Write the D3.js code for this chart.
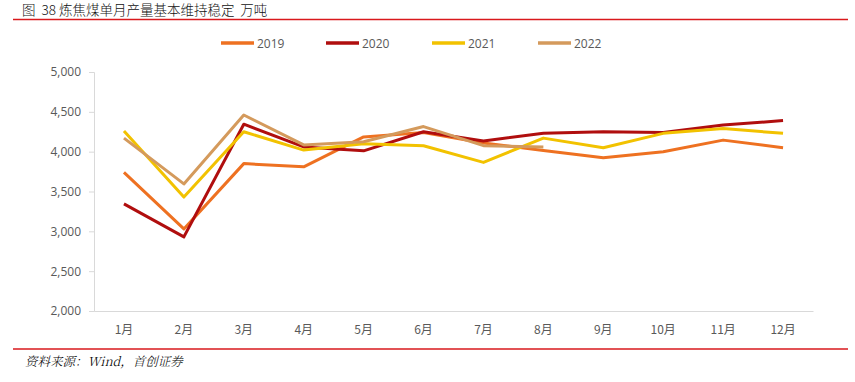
<!DOCTYPE html>
<html><head><meta charset="utf-8">
<script src="https://cdn.jsdelivr.net/npm/d3@7"></script>
<style>body{margin:0;background:#fff}svg{display:block}</style>
</head><body>
<svg id="c" width="855" height="382"></svg>
<script>
const months = ["1月","2月","3月","4月","5月","6月","7月","8月","9月","10月","11月","12月"];
const yTicks = [2000,2500,3000,3500,4000,4500,5000];
const s2019 = [3740,3030,3850,3810,4185,4240,4110,4015,3925,4000,4145,4050];
const s2020 = [3345,2930,4345,4060,4010,4250,4135,4230,4250,4240,4335,4390];
const s2021 = [4260,3430,4250,4020,4100,4075,3865,4170,4050,4230,4290,4230];
const s2022 = [4170,3595,4460,4085,4125,4315,4075,4060];
const seriesNames = ["2019","2020","2021","2022"];
const colors = ["#EE7121","#B00E0E","#F2C200","#D49A5C"];
const allSeries = [s2019,s2020,s2021,s2022];

const svg = d3.select("#c");
const font = "'Noto Sans CJK SC','Microsoft YaHei',sans-serif";

// title
svg.append("text").attr("x",22).attr("y",15).attr("font-family",font).attr("font-size",13.5)
  .attr("font-weight",300).attr("fill","#111").style("white-space","pre")
  .text("图  38 炼焦煤单月产量基本维持稳定  万吨");
svg.append("line").attr("x1",13).attr("x2",848).attr("y1",19.5).attr("y2",19.5)
  .attr("stroke","#D9191C").attr("stroke-width",1.5);
svg.append("line").attr("x1",13).attr("x2",848).attr("y1",349).attr("y2",349)
  .attr("stroke","#D9191C").attr("stroke-width",1.5);
svg.append("text").attr("x",25).attr("y",366).attr("font-family","'Noto Serif CJK SC','Noto Sans CJK SC',serif")
  .attr("font-style","italic").attr("font-size",12.5).attr("font-weight",300).attr("fill","#000").text("资料来源：Wind，首创证券");

const x = d3.scaleBand().domain(months).range([94,813]);
const y = d3.scaleLinear().domain([2000,5000]).range([311,72]);

// y axis
const ya = svg.append("g").attr("transform","translate(94,0)")
  .call(d3.axisLeft(y).tickValues(yTicks).tickFormat(d3.format(",")).tickSize(5).tickPadding(8));
ya.select(".domain").attr("stroke","#D9D9D9");
ya.selectAll(".tick line").attr("stroke","#D9D9D9");
ya.selectAll("text").attr("font-family","'Open Sans',sans-serif").attr("font-size",12).attr("fill","#595959");

// x axis
const xa = svg.append("g").attr("transform","translate(0,311)")
  .call(d3.axisBottom(x).tickSize(0).tickPadding(14));
xa.select(".domain").attr("stroke","#D9D9D9");
xa.selectAll("text").attr("font-family",font).attr("font-size",12).attr("fill","#595959");

const line = d3.line().x((d,i)=>x(months[i])+x.bandwidth()/2).y(d=>y(d));
allSeries.forEach((s,k)=>{
  svg.append("path").datum(s).attr("d",line).attr("fill","none")
    .attr("stroke",colors[k]).attr("stroke-width",3).attr("stroke-linejoin","round");
});

// legend
const lx = [221,326,432,538];
seriesNames.forEach((n,k)=>{
  svg.append("line").attr("x1",lx[k]).attr("x2",lx[k]+33).attr("y1",43).attr("y2",43)
    .attr("stroke",colors[k]).attr("stroke-width",3.5);
  svg.append("text").attr("x",lx[k]+36).attr("y",47.5).attr("font-family","'Open Sans',sans-serif")
    .attr("font-size",12).attr("fill","#595959").text(n);
});
</script>
</body></html>
